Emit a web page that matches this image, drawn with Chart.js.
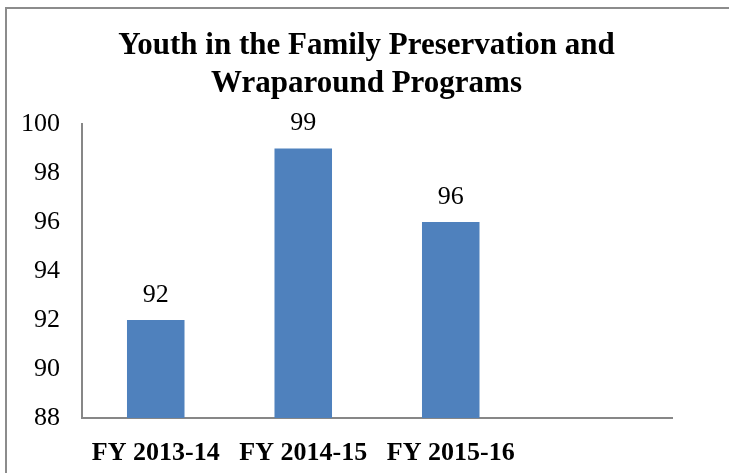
<!DOCTYPE html>
<html>
<head>
<meta charset="utf-8">
<script src="https://cdn.jsdelivr.net/npm/chart.js@4"></script>
<style>
  html, body { margin: 0; padding: 0; background: #fff; }
  #wrap { position: relative; width: 729px; height: 473px; overflow: hidden; }
  #frame { position: absolute; left: 5px; top: 7px; width: 760px; height: 500px;
           border-left: 2px solid #8c8c8c; border-top: 2px solid #8c8c8c; }
  canvas { position: absolute; left: 0; top: 0; }
</style>
</head>
<body>
<div id="wrap">
  <div id="frame"></div>
  <canvas id="barChart" width="729" height="473"></canvas>
</div>
<script>
// ── data ────────────────────────────────────────────────────────────────
const categories = ['FY 2013-14', 'FY 2014-15', 'FY 2015-16', ''];
const youthCounts = [92, 99, 96, null];
const yTicks = [88, 90, 92, 94, 96, 98, 100];
const titleLines = ['Youth in the Family Preservation and', 'Wraparound Programs'];

const serif = '"Liberation Serif", "Times New Roman", serif';

// title centred on the whole canvas (the plot itself is off-centre)
const pageTitle = {
  id: 'pageTitle',
  afterDraw(chart) {
    const ctx = chart.ctx;
    ctx.save();
    ctx.font = 'bold 31px ' + serif;
    ctx.fillStyle = '#000';
    ctx.textAlign = 'center';
    ctx.textBaseline = 'middle';
    titleLines.forEach((line, i) => ctx.fillText(line, chart.width / 2 + 2, 46 + i * 38));
    ctx.restore();
  }
};

// value labels above each bar
const barLabels = {
  id: 'barLabels',
  afterDatasetsDraw(chart) {
    const ctx = chart.ctx;
    const meta = chart.getDatasetMeta(0);
    ctx.save();
    ctx.font = '26px ' + serif;
    ctx.fillStyle = '#000';
    ctx.textAlign = 'center';
    ctx.textBaseline = 'middle';
    meta.data.forEach((bar, i) => {
      const v = youthCounts[i];
      if (v == null) return;
      ctx.fillText(String(v), bar.x, bar.y - 25);
    });
    ctx.restore();
  }
};

new Chart(document.getElementById('barChart'), {
  type: 'bar',
  data: {
    labels: categories,
    datasets: [{
      data: youthCounts,
      backgroundColor: '#4f81bd',
      borderWidth: 0,
      barPercentage: 0.39,
      categoryPercentage: 1
    }]
  },
  options: {
    responsive: false,
    animation: false,
    layout: { padding: { left: 0, right: 57, top: 124, bottom: 0 } },
    plugins: {
      legend: { display: false },
      tooltip: { enabled: false },
      title: { display: false }
    },
    scales: {
      x: {
        grid: { display: false },
        border: { color: '#878787', width: 2 },
        ticks: { color: '#000', padding: 12, maxRotation: 0, autoSkip: false,
                 font: { family: serif, size: 26, weight: 'bold' } },
        afterFit(scale) { scale.height = 55; }
      },
      y: {
        min: 88,
        max: 100,
        afterBuildTicks(scale) { scale.ticks = yTicks.map(v => ({ value: v })); },
        grid: { display: false },
        border: { color: '#878787', width: 2 },
        ticks: { color: '#000', padding: 14, font: { family: serif, size: 26 } },
        afterFit(scale) { scale.width = 82; }
      }
    }
  },
  plugins: [barLabels, pageTitle]
});
</script>
</body>
</html>
